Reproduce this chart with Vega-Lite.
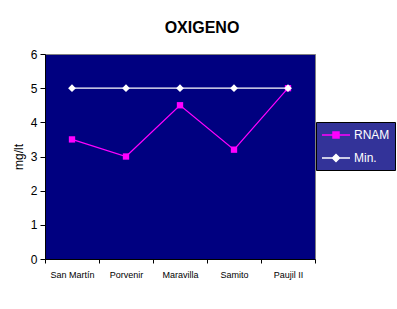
{
  "$schema": "https://vega.github.io/schema/vega-lite/v6.json",
  "width": 270,
  "height": 205,
  "autosize": "none",
  "padding": {"left": 45, "top": 54, "right": 82, "bottom": 50},
  "background": "#ffffff",
  "title": {"text": "OXIGENO", "font": "Liberation Sans", "fontSize": 16, "fontWeight": "bold", "color": "#000000", "anchor": "middle", "dx": 22, "offset": -1, "baseline": "alphabetic"},
  "config": {
    "font": "Liberation Sans",
    "view": {"fill": "#000080", "stroke": "#808080", "strokeWidth": 1}
  },
  "data": {
    "values": [
      {"sitio": "San Martín", "serie": "RNAM", "valor": 3.5},
      {"sitio": "Porvenir", "serie": "RNAM", "valor": 3.0},
      {"sitio": "Maravilla", "serie": "RNAM", "valor": 4.5},
      {"sitio": "Samito", "serie": "RNAM", "valor": 3.2},
      {"sitio": "Paujil II", "serie": "RNAM", "valor": 5.0},
      {"sitio": "San Martín", "serie": "Min.", "valor": 5},
      {"sitio": "Porvenir", "serie": "Min.", "valor": 5},
      {"sitio": "Maravilla", "serie": "Min.", "valor": 5},
      {"sitio": "Samito", "serie": "Min.", "valor": 5},
      {"sitio": "Paujil II", "serie": "Min.", "valor": 5}
    ]
  },
  "encoding": {
    "x": {
      "field": "sitio", "type": "nominal",
      "sort": ["San Martín", "Porvenir", "Maravilla", "Samito", "Paujil II"],
      "scale": {"type": "band", "paddingInner": 0, "paddingOuter": 0},
      "bandPosition": 0.5,
      "axis": {"title": null, "labelAngle": 0, "labelFontSize": 9, "labelColor": "#000000", "tickSize": 4, "labelPadding": 7, "tickBand": "extent", "domainColor": "#000000", "tickColor": "#000000", "grid": false}
    },
    "y": {
      "field": "valor", "type": "quantitative",
      "scale": {"domain": [0, 6], "nice": false},
      "axis": {"title": "mg/lt", "titleFontSize": 12, "titleFontWeight": "normal", "titleColor": "#000000", "titlePadding": 5, "labelFontSize": 12, "labelColor": "#000000", "values": [0, 1, 2, 3, 4, 5, 6], "tickSize": 5, "labelPadding": 3, "domainColor": "#000000", "tickColor": "#000000", "grid": false}
    }
  },
  "layer": [
    {
      "mark": {"type": "point", "filled": true, "size": 2},
      "encoding": {
        "fill": {"field": "serie", "type": "nominal", "scale": {"domain": ["RNAM", "Min."], "range": ["#ff00ff", "#ffffff"]}, "legend": {"title": null, "orient": "none", "legendX": 271, "legendY": 68, "fillColor": "#333399", "strokeColor": "#000000", "padding": 5, "symbolSize": 196, "symbolStrokeWidth": 1.5, "symbolOpacity": 1, "symbolOffset": 7, "labelColor": "#ffffff", "labelFontSize": 12, "labelOffset": 10, "rowPadding": 8}},
        "stroke": {"field": "serie", "type": "nominal", "scale": {"domain": ["RNAM", "Min."], "range": ["#ff00ff", "#ffffff"]}, "legend": {"title": null, "orient": "none", "legendX": 271, "legendY": 68, "fillColor": "#333399", "strokeColor": "#000000", "padding": 5, "symbolSize": 196, "symbolStrokeWidth": 1.5, "symbolOpacity": 1, "symbolOffset": 7, "labelColor": "#ffffff", "labelFontSize": 12, "labelOffset": 10, "rowPadding": 8}},
        "shape": {"field": "serie", "type": "nominal", "scale": {"domain": ["RNAM", "Min."], "range": ["M-2,0H2M-0.43,-0.43H0.43V0.43H-0.43Z", "M-2,0H2M0,-0.5L0.5,0L0,0.5L-0.5,0Z"]}, "legend": {"title": null, "orient": "none", "legendX": 271, "legendY": 68, "fillColor": "#333399", "strokeColor": "#000000", "padding": 5, "symbolSize": 196, "symbolStrokeWidth": 1.5, "symbolOpacity": 1, "symbolOffset": 7, "labelColor": "#ffffff", "labelFontSize": 12, "labelOffset": 10, "rowPadding": 8}}
      }
    },
    {
      "mark": {"type": "line", "strokeWidth": 1.2},
      "encoding": {
        "color": {"field": "serie", "type": "nominal", "scale": {"domain": ["RNAM", "Min."], "range": ["#ff00ff", "#ffffff"]}, "legend": null}
      }
    },
    {
      "transform": [{"filter": "datum.serie === 'RNAM'"}],
      "mark": {"type": "point", "filled": true, "opacity": 1, "shape": "square", "size": 40, "color": "#ff00ff"}
    },
    {
      "transform": [{"filter": "datum.serie === 'Min.'"}],
      "mark": {"type": "point", "filled": true, "opacity": 1, "shape": "diamond", "size": 60, "color": "#ffffff"}
    }
  ]
}
